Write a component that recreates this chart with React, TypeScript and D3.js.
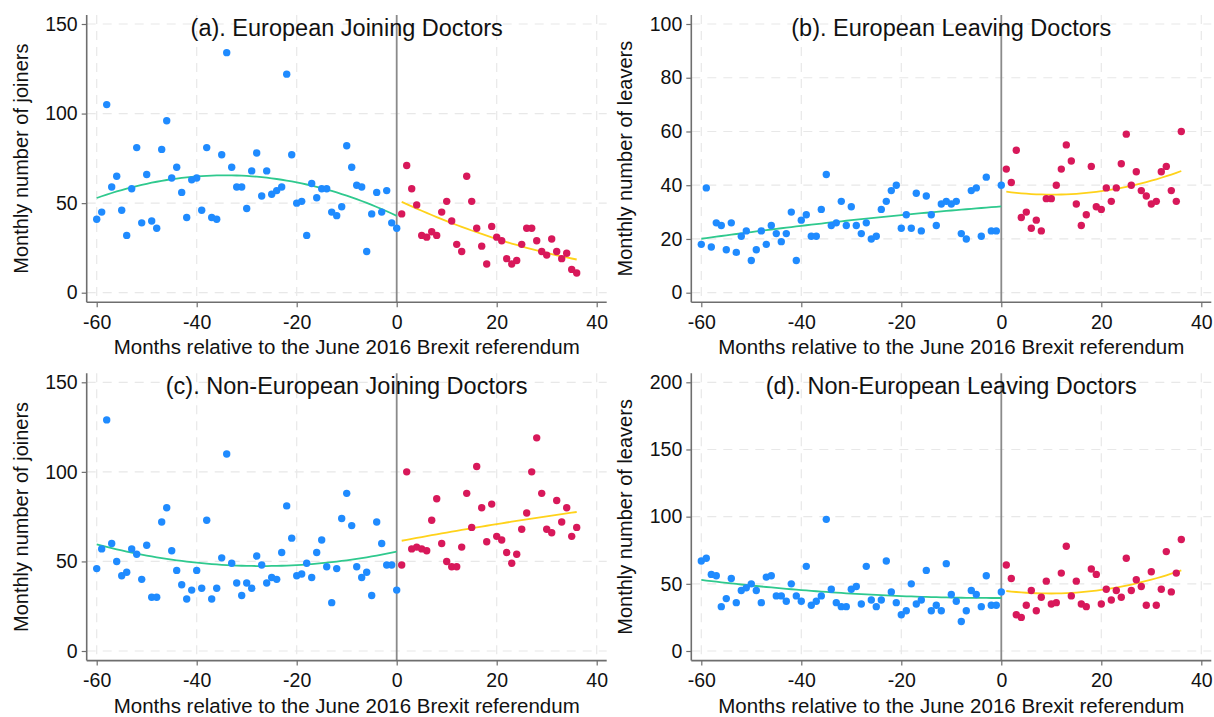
import React, { useRef, useEffect } from 'react'
import * as d3 from 'd3'

// months relative to the referendum (June 2016 = 0)
const preMonths = d3.range(-60, 1)
const postMonths = d3.range(1, 37)
const xTicks = [-60, -40, -20, 0, 20, 40]

// (a) European joiners
const euJoinPre = [41, 45, 105, 59, 65, 46, 32, 58, 81, 39, 66, 40, 36, 80, 96, 64, 70, 56, 42, 63, 64, 46, 81, 42, 41, 77, 134, 70, 59, 59, 47, 68, 78, 54, 68, 55, 57, 59, 122, 77, 50, 51, 32, 61, 53, 58, 58, 45, 43, 48, 82, 70, 60, 59, 23, 44, 56, 45, 57, 39, 36]
const euJoinPost = [44, 71, 58, 49, 32, 31, 34, 32, 45, 51, 40, 27, 23, 65, 51, 36, 26, 16, 37, 31, 29, 19, 16, 18, 27, 36, 36, 29, 23, 21, 30, 23, 19, 22, 13, 11]

// (b) European leavers
const euLeavePre = [18, 39, 17, 26, 25, 16, 26, 15, 21, 23, 12, 16, 23, 18, 25, 22, 19, 22, 30, 12, 27, 29, 21, 21, 31, 44, 25, 26, 34, 25, 32, 25, 22, 26, 20, 21, 31, 34, 38, 40, 24, 29, 24, 37, 23, 36, 29, 25, 33, 34, 33, 34, 22, 20, 38, 39, 21, 43, 23, 23, 40]
const euLeavePost = [46, 41, 53, 28, 30, 24, 27, 23, 35, 35, 40, 46, 55, 49, 33, 25, 29, 47, 32, 31, 39, 34, 39, 48, 59, 40, 45, 38, 36, 33, 34, 45, 47, 38, 34, 60]

// (c) Non-European joiners
const nonEuJoinPre = [46, 57, 129, 60, 50, 42, 44, 57, 54, 40, 59, 30, 30, 72, 80, 56, 45, 37, 29, 34, 45, 35, 73, 29, 35, 52, 110, 49, 38, 31, 38, 35, 53, 48, 38, 41, 40, 55, 81, 63, 42, 43, 49, 41, 55, 62, 47, 27, 46, 74, 88, 70, 47, 41, 44, 31, 72, 60, 48, 48, 34]
const nonEuJoinPost = [48, 100, 57, 58, 57, 56, 73, 85, 60, 50, 47, 47, 58, 88, 69, 103, 80, 61, 82, 64, 62, 55, 49, 54, 68, 77, 100, 119, 88, 68, 66, 84, 72, 80, 64, 69]

// (d) Non-European leavers
const nonEuLeavePre = [67, 69, 57, 56, 33, 39, 54, 36, 45, 47, 50, 45, 36, 55, 56, 41, 41, 37, 50, 41, 37, 63, 34, 37, 41, 98, 46, 36, 33, 33, 46, 48, 35, 63, 38, 33, 38, 67, 44, 36, 27, 30, 50, 35, 38, 60, 30, 34, 30, 65, 42, 37, 22, 30, 45, 42, 33, 56, 34, 34, 44]
const nonEuLeavePost = [64, 54, 27, 25, 34, 45, 30, 40, 52, 35, 36, 58, 78, 41, 52, 35, 33, 61, 57, 35, 46, 38, 45, 40, 69, 45, 53, 48, 34, 59, 34, 46, 74, 44, 58, 83]

const titles = [
  '(a). European Joining Doctors',
  '(b). European Leaving Doctors',
  '(c). Non-European Joining Doctors',
  '(d). Non-European Leaving Doctors',
]
const yLabels = [
  'Monthly number of joiners',
  'Monthly number of leavers',
  'Monthly number of joiners',
  'Monthly number of leavers',
]
const yTicks = [
  [0, 50, 100, 150],
  [0, 20, 40, 60, 80, 100],
  [0, 50, 100, 150],
  [0, 50, 100, 150, 200],
]
const xLabel = 'Months relative to the June 2016 Brexit referendum'

const FONT = 'Arial, "Liberation Sans", Helvetica, sans-serif'
const BLUE = '#1f8bff'
const RED = '#d8185a'
const GREEN = '#2fc98e'
const YELLOW = '#ffd21a'

// least squares quadratic y = a + b x + c x^2
function quadFit(xs: number[], ys: number[]) {
  const s = [0, 0, 0, 0, 0]
  const t = [0, 0, 0]
  xs.forEach((x, i) => {
    for (let k = 0; k < 5; k++) s[k] += Math.pow(x, k)
    for (let k = 0; k < 3; k++) t[k] += ys[i] * Math.pow(x, k)
  })
  const m = [
    [s[0], s[1], s[2], t[0]],
    [s[1], s[2], s[3], t[1]],
    [s[2], s[3], s[4], t[2]],
  ]
  //gaussian elimination
  for (let i = 0; i < 3; i++) {
    for (let j = i + 1; j < 3; j++) {
      const f = m[j][i] / m[i][i]
      for (let k = i; k < 4; k++) m[j][k] -= f * m[i][k]
    }
  }
  const c = [0, 0, 0]
  for (let i = 2; i >= 0; i--) {
    let v = m[i][3]
    for (let k = i + 1; k < 3; k++) v -= m[i][k] * c[k]
    c[i] = v / m[i][i]
  }
  return (x: number) => c[0] + c[1] * x + c[2] * x * x
}

function App() {
  const svgRef = useRef(null)

  useEffect(() => {
    const svg = d3.select(svgRef.current)
    svg.selectAll('*').remove()

    const panels = [
      { pre: euJoinPre, post: euJoinPost },
      { pre: euLeavePre, post: euLeavePost },
      { pre: nonEuJoinPre, post: nonEuJoinPost },
      { pre: nonEuLeavePre, post: nonEuLeavePost },
    ]
    const lefts = [86.7, 691.3]
    const zeros = [292.7, 651]

    panels.forEach((p, i) => {
      const L = lefts[i % 2]
      const y0 = zeros[Math.floor(i / 2)]
      const R = L + 520
      const top = y0 - 277.7
      const bottom = y0 + 9.6
      const ticks = yTicks[i]

      const x = d3.scaleLinear().domain([-62, 42]).range([L, R])
      const y = d3
        .scaleLinear()
        .domain([0, ticks[ticks.length - 1]])
        .range([y0, y0 - 268.7])

      const g = svg.append('g')

      //dashed grid
      g.selectAll('.hgrid')
        .data(ticks)
        .join('line')
        .attr('x1', L)
        .attr('x2', R)
        .attr('y1', (d) => y(d))
        .attr('y2', (d) => y(d))
        .attr('stroke', '#e8e8e8')
        .attr('stroke-width', 1.2)
        .attr('stroke-dasharray', '9,7')
      g.selectAll('.vgrid')
        .data(xTicks.filter((d) => d !== 0))
        .join('line')
        .attr('x1', (d) => x(d))
        .attr('x2', (d) => x(d))
        .attr('y1', top)
        .attr('y2', bottom)
        .attr('stroke', '#e8e8e8')
        .attr('stroke-width', 1.2)
        .attr('stroke-dasharray', '9,7')

      //referendum line
      g.append('line')
        .attr('x1', x(0))
        .attr('x2', x(0))
        .attr('y1', top)
        .attr('y2', bottom)
        .attr('stroke', '#8a8a8a')
        .attr('stroke-width', 1.8)

      //axes
      g.append('line')
        .attr('x1', L)
        .attr('x2', L)
        .attr('y1', top)
        .attr('y2', bottom)
        .attr('stroke', '#6e6e6e')
        .attr('stroke-width', 1.6)
      g.append('line')
        .attr('x1', L)
        .attr('x2', R)
        .attr('y1', bottom)
        .attr('y2', bottom)
        .attr('stroke', '#6e6e6e')
        .attr('stroke-width', 1.6)

      const fmt = (d: any) => String(d)
      const yAxis = g
        .append('g')
        .attr('transform', `translate(${L},0)`)
        .call(d3.axisLeft(y).tickValues(ticks).tickFormat(fmt).tickSize(5).tickSizeOuter(0).tickPadding(4))
      const xAxis = g
        .append('g')
        .attr('transform', `translate(0,${bottom})`)
        .call(d3.axisBottom(x).tickValues(xTicks).tickFormat(fmt).tickSize(5).tickSizeOuter(0).tickPadding(8))
      ;[yAxis, xAxis].forEach((a) => {
        a.select('.domain').remove()
        a.selectAll('.tick line').attr('stroke', '#6e6e6e').attr('stroke-width', 1.2)
        a.selectAll('.tick text')
          .attr('fill', '#111')
          .style('font-family', FONT)
          .style('font-size', '19.5px')
      })

      //fitted quadratics
      const fitPre = quadFit(preMonths, p.pre)
      const fitPost = quadFit(postMonths, p.post)
      const line = d3
        .line<number>()
        .x((d) => x(d))
      g.append('path')
        .attr('d', line.y((d) => y(fitPre(d)))(preMonths))
        .attr('fill', 'none')
        .attr('stroke', GREEN)
        .attr('stroke-width', 1.8)
      g.append('path')
        .attr('d', line.y((d) => y(fitPost(d)))(postMonths))
        .attr('fill', 'none')
        .attr('stroke', YELLOW)
        .attr('stroke-width', 1.8)

      //monthly counts
      g.selectAll('.pre')
        .data(p.pre)
        .join('circle')
        .attr('cx', (d, k) => x(preMonths[k]))
        .attr('cy', (d) => y(d))
        .attr('r', 3.7)
        .attr('fill', BLUE)
      g.selectAll('.post')
        .data(p.post)
        .join('circle')
        .attr('cx', (d, k) => x(postMonths[k]))
        .attr('cy', (d) => y(d))
        .attr('r', 3.7)
        .attr('fill', RED)

      //titles
      g.append('text')
        .attr('x', (L + R) / 2)
        .attr('y', top + 21)
        .attr('text-anchor', 'middle')
        .style('font-family', FONT)
        .style('font-size', '23.5px')
        .attr('fill', '#111')
        .text(titles[i])
      g.append('text')
        .attr('x', (L + R) / 2)
        .attr('y', bottom + 52)
        .attr('text-anchor', 'middle')
        .style('font-family', FONT)
        .style('font-size', '20.5px')
        .attr('fill', '#111')
        .text(xLabel)
      g.append('text')
        .attr('transform', `translate(${L - 59},${(top + bottom) / 2}) rotate(-90)`)
        .attr('text-anchor', 'middle')
        .style('font-family', FONT)
        .style('font-size', '20px')
        .attr('fill', '#111')
        .text(yLabels[i])
    })
  }, [])

  return (
    <svg
      ref={svgRef}
      width={1214}
      height={717}
      style={{ position: 'absolute', left: 0, top: 0, background: '#fff' }}
    />
  )
}

export default App
